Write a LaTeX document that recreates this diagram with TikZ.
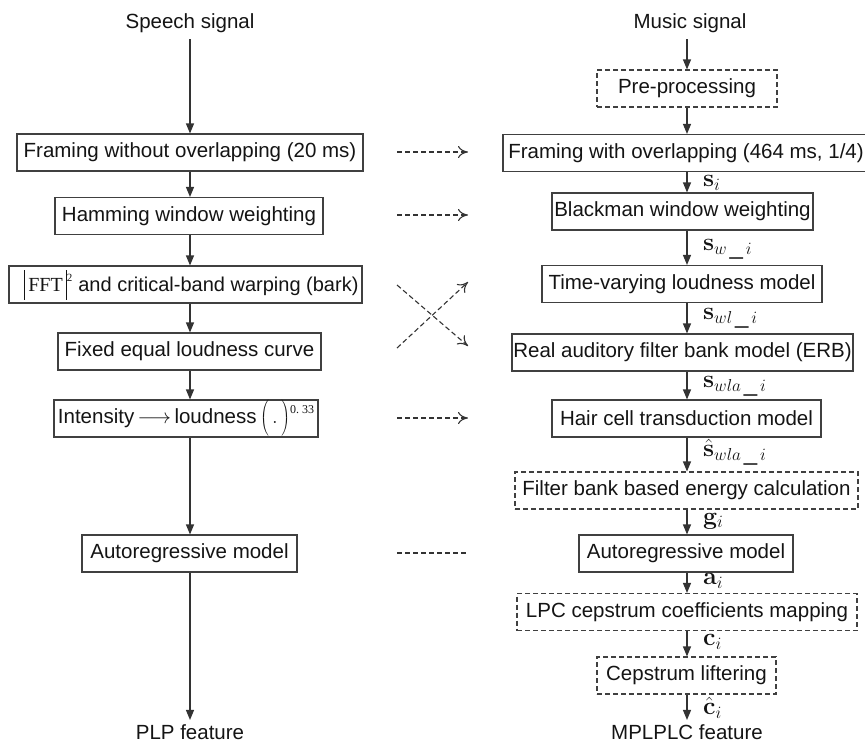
\documentclass[tikz,border=0pt]{standalone}
\usepackage[no-math]{fontspec}
\setmainfont{Liberation Sans}
\newfontfamily\tmsfont{Liberation Serif}
\usetikzlibrary{arrows.meta}
\begin{document}
\begin{tikzpicture}[x=1pt,y=-1pt,
  every node/.style={font=\fontsize{20.5}{24}\selectfont, text=black!92},
  box/.style={draw=black!75, line width=1.1pt, minimum height=37pt, inner sep=0pt, anchor=center},
  dbox/.style={box, dash pattern=on 5pt off 3pt},
  arr/.style={draw=black!80, line width=1.1pt, -{Triangle[width=8pt,length=10pt]}},
  darr/.style={draw=black!80, line width=1.1pt, dash pattern=on 5pt off 3pt, -{Computer Modern Rightarrow[width=12pt,length=10pt]}},
  dline/.style={draw=black!80, line width=1.1pt, dash pattern=on 5pt off 3pt},
  lab/.style={anchor=west, inner sep=0pt, font=\fontsize{24}{26}\selectfont},
  endtext/.style={anchor=base, inner sep=0pt}
]
\useasboundingbox (0,0) rectangle (865,742);
\coordinate (colL) at (190,0);
\coordinate (colR) at (687,0);

% left column
\node (sp) at (190,23) {Speech signal};
\node[box, minimum width=346pt] (b1) at (190,152.5) {Framing without overlapping (20 ms)};
\node[box, minimum width=268pt] (b2) at (189,216) {Hamming window weighting};
\node[box, minimum width=353pt, font=\fontsize{20}{24}\selectfont] (b3) at (185.5,284.5) {\makebox[346pt][r]{\rule[-8pt]{0.7pt}{30pt}\,{\tmsfont FFT}\,\rule[-8pt]{0.7pt}{30pt}\raisebox{10pt}{\fontsize{11}{11}\selectfont\tmsfont 2}\hspace{6pt}and critical-band warping (bark)}};
\node[box, minimum width=263pt] (b4) at (189.5,351.5) {Fixed equal loudness curve};
\node[box, minimum width=264pt] (b5) at (186,418.5) {Intensity\,$\longrightarrow$\,loudness\,$\left(\rule[-11pt]{0pt}{34pt}\,\mathbf{.}\,\right)$\raisebox{10pt}{\fontsize{12}{12}\selectfont\tmsfont 0.\ 33}};
\node[box, minimum width=215pt] (b6) at (189.5,553.5) {Autoregressive model};
\node[endtext] (plp) at (190,739) {PLP feature};

\draw[arr, shorten <=3pt] (sp.south -| colL) -- (b1.north -| colL);
\draw[arr] (b1.south -| colL) -- (b2.north -| colL);
\draw[arr] (b2.south -| colL) -- (b3.north -| colL);
\draw[arr] (b3.south -| colL) -- (b4.north -| colL);
\draw[arr] (b4.south -| colL) -- (b5.north -| colL);
\draw[arr] (b5.south -| colL) -- (b6.north -| colL);
\draw[arr, shorten >=4pt] (b6.south -| colL) -- (plp.north -| colL);

% right column
\node (mu) at (690,23) {Music signal};
\node[dbox, minimum width=180pt] (r0) at (687,88.5) {Pre-processing};
\node[box, minimum width=366pt] (r1) at (686,153) {Framing with overlapping (464 ms, 1/4)};
\node[box, minimum width=261pt] (r2) at (682.5,211.5) {Blackman window weighting};
\node[box, minimum width=280pt] (r3) at (682,284) {Time-varying loudness model};
\node[box, minimum width=341pt] (r4) at (682.5,352.5) {Real auditory filter bank model (ERB)};
\node[box, minimum width=269pt] (r5) at (686.5,418.5) {Hair cell transduction model};
\node[dbox, minimum width=343pt] (r6) at (686.5,490.5) {Filter bank based energy calculation};
\node[box, minimum width=214pt] (r7) at (686,553.5) {Autoregressive model};
\node[dbox, minimum width=340pt] (r8) at (687,612) {LPC cepstrum coefficients mapping};
\node[dbox, minimum width=179pt] (r9) at (686.5,675.5) {Cepstrum liftering};
\node[endtext] (mp) at (687,739) {MPLPLC feature};

\draw[arr, shorten <=3pt] (mu.south -| colR) -- (r0.north -| colR);
\draw[arr] (r0.south -| colR) -- (r1.north -| colR);
\draw[arr] (r1.south -| colR) -- (r2.north -| colR);
\draw[arr] (r2.south -| colR) -- (r3.north -| colR);
\draw[arr] (r3.south -| colR) -- (r4.north -| colR);
\draw[arr] (r4.south -| colR) -- (r5.north -| colR);
\draw[arr] (r5.south -| colR) -- (r6.north -| colR);
\draw[arr] (r6.south -| colR) -- (r7.north -| colR);
\draw[arr] (r7.south -| colR) -- (r8.north -| colR);
\draw[arr] (r8.south -| colR) -- (r9.north -| colR);
\draw[arr, shorten >=4pt] (r9.south -| colR) -- (mp.north -| colR);

% labels
\node[lab] (l1) at (703,183) {$\mathbf{s}_{i}$};
\node[lab] (l2) at (703,249) {$\mathbf{s}_{w\,\_\,i}$};
\node[lab] (l3) at (703,318) {$\mathbf{s}_{wl\,\_\,i}$};
\node[lab] (l4) at (703,386) {$\mathbf{s}_{wla\,\_\,i}$};
\node[lab] (l5) at (703,452) {$\hat{\mathbf{s}}_{wla\,\_\,i}$};
\node[lab] (l6) at (703,521) {$\mathbf{g}_{i}$};
\node[lab] (l7) at (703,581) {$\mathbf{a}_{i}$};
\node[lab] (l8) at (703,642) {$\mathbf{c}_{i}$};
\node[lab] (l9) at (703,708) {$\hat{\mathbf{c}}_{i}$};

% middle links
\coordinate (m1a) at (397,152); \coordinate (m1b) at (468,152);
\coordinate (m2a) at (397,215); \coordinate (m2b) at (468,215);
\coordinate (xa) at (397,285); \coordinate (xb) at (468,346);
\coordinate (xc) at (397,348); \coordinate (xd) at (468,282);
\coordinate (m3a) at (397,418); \coordinate (m3b) at (468,418);
\coordinate (m4a) at (397,553); \coordinate (m4b) at (466,553);
\draw[darr] (m1a) -- (m1b);
\draw[darr] (m2a) -- (m2b);
\draw[darr] (xa) -- (xb);
\draw[darr] (xc) -- (xd);
\draw[darr] (m3a) -- (m3b);
\draw[dline] (m4a) -- (m4b);
\end{tikzpicture}
\end{document}
